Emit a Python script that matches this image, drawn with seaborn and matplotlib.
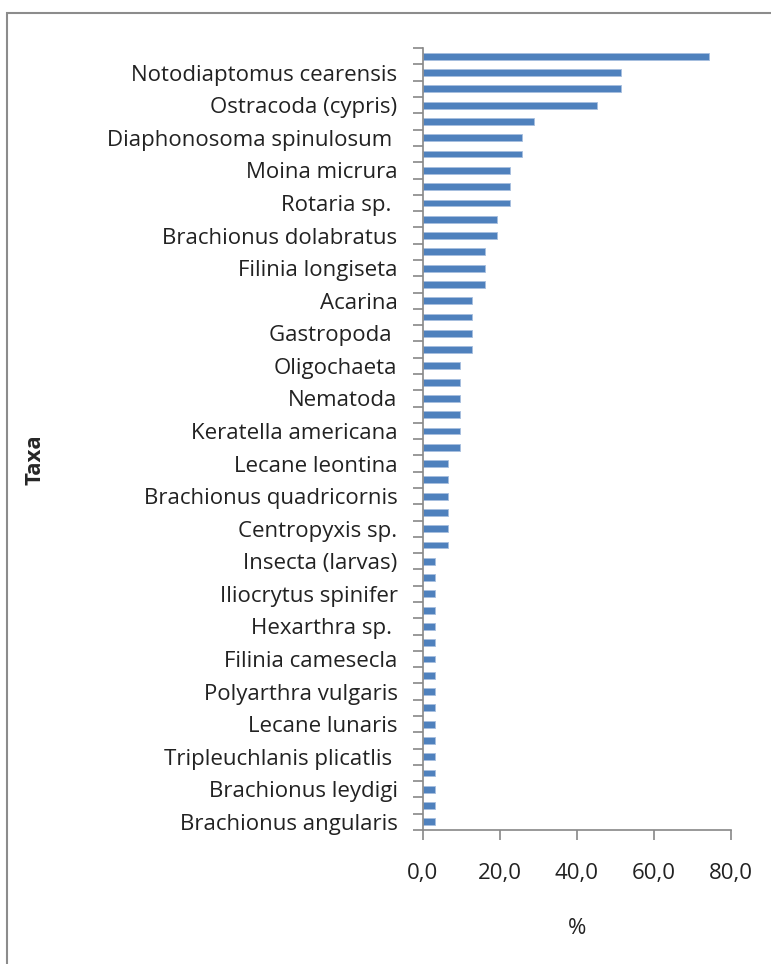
import matplotlib
matplotlib.use("Agg")
import matplotlib.pyplot as plt
import seaborn as sns
import pandas as pd
from matplotlib.patches import Rectangle
from matplotlib.ticker import FixedLocator

# 48 taxa, top to bottom; only every other name is printed on the chart
visible_labels = [
    "Notodiaptomus cearensis", "Ostracoda (cypris)", "Diaphonosoma spinulosum ",
    "Moina micrura", "Rotaria sp. ", "Brachionus dolabratus", "Filinia longiseta",
    "Acarina", "Gastropoda ", "Oligochaeta", "Nematoda", "Keratella americana",
    "Lecane leontina", "Brachionus quadricornis", "Centropyxis sp.",
    "Insecta (larvas)", "Iliocrytus spinifer", "Hexarthra sp. ", "Filinia camesecla",
    "Polyarthra vulgaris", "Lecane lunaris", "Tripleuchlanis plicatlis ",
    "Brachionus leydigi", "Brachionus angularis",
]

frequency = [
    74.2, 51.6, 51.6, 45.2, 29.0, 25.8, 25.8, 22.6, 22.6, 22.6, 19.4, 19.4,
    16.1, 16.1, 16.1, 12.9, 12.9, 12.9, 12.9, 9.7, 9.7, 9.7, 9.7, 9.7, 9.7,
    6.5, 6.5, 6.5, 6.5, 6.5, 6.5,
    3.2, 3.2, 3.2, 3.2, 3.2, 3.2, 3.2, 3.2, 3.2, 3.2, 3.2, 3.2, 3.2, 3.2, 3.2, 3.2, 3.2,
]

x_ticks = [0, 20, 40, 60, 80]
x_ticklabels = ["0,0", "20,0", "40,0", "60,0", "80,0"]

# build category names: hidden names get a placeholder, printed names on even rows
taxa = []
tick_text = []
for i in range(len(frequency)):
    if i % 2 == 1:
        name = visible_labels[i // 2]
        taxa.append(name)
        tick_text.append(name)
    else:
        taxa.append(f"taxon_{i}")
        tick_text.append("")

df = pd.DataFrame({"Taxa": taxa, "pct": frequency})

sns.set_style("white")
plt.rcParams["font.family"] = ["Open Sans", "DejaVu Sans"]

fig = plt.figure(figsize=(7.71, 9.64), dpi=100)
ax = fig.add_axes([0.548, 0.139, 0.400, 0.811])

sns.barplot(data=df, x="pct", y="Taxa", order=taxa, color="#4F81BD",
            saturation=1, width=0.42, edgecolor="#A7BEDF", linewidth=0.6, ax=ax)

ax.set_xlim(0, 80)
ax.set_ylim(len(taxa) - 0.5, -0.5)
ax.set_xticks(x_ticks)
ax.set_xticklabels(x_ticklabels, fontsize=16, color="#222222")
ax.set_yticks(range(len(taxa)))
ax.set_yticklabels(tick_text, fontsize=16, color="#222222")
ax.tick_params(left=True, bottom=True, which="both")
ax.tick_params(axis="y", which="major", length=0, pad=18)
ax.tick_params(axis="x", length=7, width=1.2, color="#888888", direction="out", pad=17)
# category boundary tick marks like Excel
ax.yaxis.set_minor_locator(FixedLocator([k - 0.5 for k in range(len(taxa) + 1)]))
ax.tick_params(axis="y", which="minor", length=7, width=1.2, color="#888888", direction="out")

for side in ["top", "right"]:
    ax.spines[side].set_visible(False)
for side in ["left", "bottom"]:
    ax.spines[side].set_color("#888888")
    ax.spines[side].set_linewidth(1.2)

ax.set_xlabel("%", fontsize=16, labelpad=24, color="#222222")
ax.set_ylabel("")
fig.text(0.046, 0.523, "Taxa", rotation=90, fontsize=16, fontweight="bold",
         ha="center", va="center")

# outer chart frame
fig.patches.append(Rectangle((0.009, -0.05), 1.1, 1.037, transform=fig.transFigure,
                             fill=False, edgecolor="#8c8c8c", linewidth=1.5))

fig.savefig("out.png", dpi=100)
